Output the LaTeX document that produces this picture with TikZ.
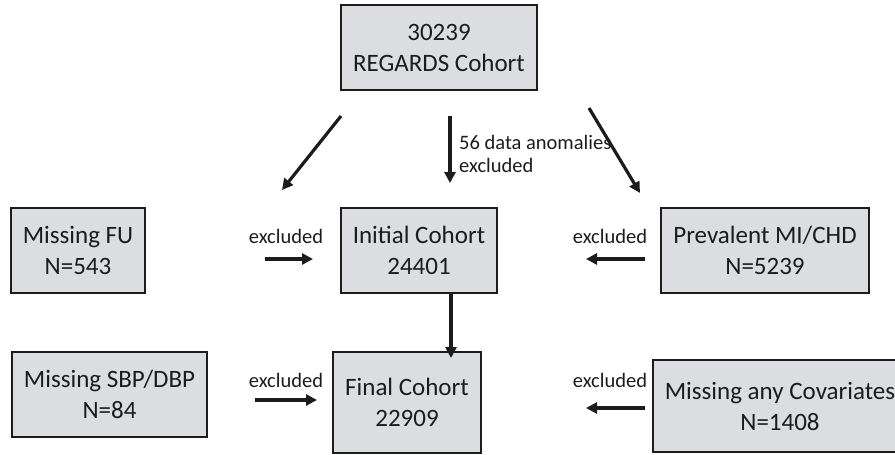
\documentclass[tikz,border=0pt]{standalone}
\usepackage{fontspec}
\setmainfont{Carlito}
\usetikzlibrary{arrows.meta}
\definecolor{boxfill}{RGB}{220,221,224}
\definecolor{ink}{RGB}{28,28,28}
\tikzset{
  box/.style={draw=ink, fill=boxfill, line width=2pt, align=center,
    text=ink, inner sep=0pt, font=\fontsize{25}{31}\selectfont},
  note/.style={text=ink, inner sep=0pt, font=\fontsize{20.5}{23}\selectfont},
  arr/.style={draw=ink, line width=3.2pt, -{Triangle[length=11pt,width=11pt]}}
}
\begin{document}
\begin{tikzpicture}[x=1pt,y=-1pt]
\useasboundingbox (0,0) rectangle (895,455);
\begin{scope}
\clip (0,0) rectangle (895,455);
% boxes
\node[box, minimum width=196pt, minimum height=85pt] (top) at (439,47.5) {30239\\REGARDS Cohort};
\node[box, minimum width=134pt, minimum height=85pt] (fu) at (78,250.5) {Missing FU\\N=543};
\node[box, minimum width=156pt, minimum height=85pt] (init) at (419,250.5) {Initial Cohort\\24401};
\node[box, minimum width=208pt, minimum height=85pt] (prev) at (765,250.5) {Prevalent MI/CHD\\N=5239};
\node[box, minimum width=195pt, minimum height=85pt] (sbp) at (109.5,394.5) {Missing SBP/DBP\\N=84};
\node[box, minimum width=148pt, minimum height=101pt] (final) at (407,402.5) {Final Cohort\\22909};
\node[box, minimum width=254pt, minimum height=92pt] (cov) at (780,406) {Missing any Covariates\\N=1408};
\end{scope}

% free arrow ends
\coordinate (dl1) at (341,116);
\coordinate (dl2) at (282,190);
\coordinate (dm1) at (450,116);
\coordinate (dm2) at (450,183);
\coordinate (dr1) at (589,108);
\coordinate (dr2) at (640,193);
\coordinate (h1a) at (265,259);
\coordinate (h1b) at (313,259);
\coordinate (h2a) at (645,259);
\coordinate (h2b) at (586,259);
\coordinate (h3a) at (255,400);
\coordinate (h3b) at (317,400);
\coordinate (h4a) at (645,408);
\coordinate (h4b) at (586,408);
\coordinate (vx) at (451,0);

% connectors
\draw[arr] (dl1) -- (dl2);
\draw[arr] (dm1) -- (dm2);
\draw[arr] (dr1) -- (dr2);
\draw[arr] (h1a) -- (h1b);
\draw[arr] (h2a) -- (h2b);
\draw[arr] (h3a) -- (h3b);
\draw[arr] (h4a) -- (h4b);
\draw[arr, shorten >=-7pt] (init.south -| vx) -- (final.north -| vx);

% labels
\node[note, anchor=west, align=left] (anom) at (459,153.5) {56 data anomalies\\excluded};
\node[note] (ex1) at (286,236) {excluded};
\node[note] (ex2) at (610,236) {excluded};
\node[note] (ex3) at (286,380) {excluded};
\node[note] (ex4) at (610,380) {excluded};
\end{tikzpicture}
\end{document}
